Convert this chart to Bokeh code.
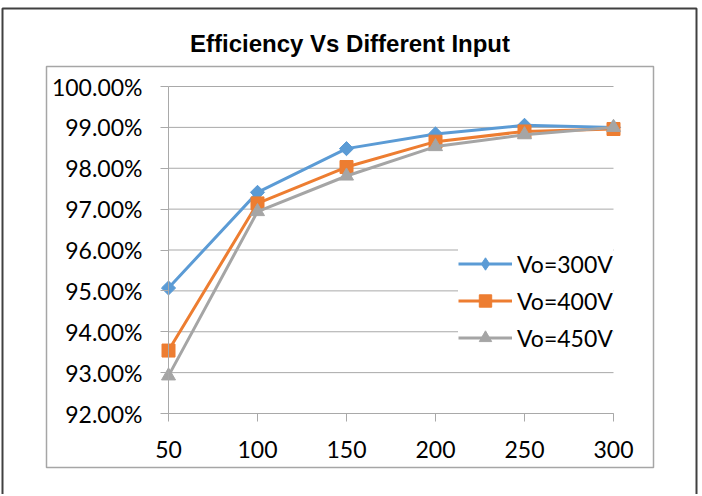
import math
from bokeh.plotting import figure
from bokeh.models import (Range1d, FixedTicker, PrintfTickFormatter, BoxAnnotation,
                          Label, Legend, LegendItem)
from bokeh.embed import file_html
from bokeh.resources import INLINE

# ---------------- data ----------------
x_vals = [50, 100, 150, 200, 250, 300]
vo300 = [95.07, 97.41, 98.48, 98.84, 99.05, 99.00]
vo400 = [93.54, 97.14, 98.03, 98.65, 98.90, 98.96]
vo450 = [92.92, 96.94, 97.81, 98.53, 98.82, 99.00]
y_ticks = [92, 93, 94, 95, 96, 97, 98, 99, 100]
series_names = ["Vo=300V", "Vo=400V", "Vo=450V"]
title_text = "Efficiency Vs Different Input"

# ---------------- layout (canvas px, y down) ----------------
W, H = 700, 494
X0_PX, X1_PX = 168, 613                 # where x=50 and x=300 fall
Y0_PX, Y1_PX = 413, 86                  # where y=92 and y=100 fall

xs = (x_vals[-1] - x_vals[0]) / (X1_PX - X0_PX)
ys = (y_ticks[-1] - y_ticks[0]) / (Y0_PX - Y1_PX)
x_range = Range1d(x_vals[0] - X0_PX * xs, x_vals[-1] + (W - X1_PX) * xs)
y_range = Range1d(y_ticks[0] - (H - Y0_PX) * ys, y_ticks[-1] + Y1_PX * ys)

GRID = "#A9A9A9"
COLORS = ["#5B9BD5", "#ED7D31", "#A5A5A5"]
LABEL_FONT = "Lato"
LABEL_SIZE = "23px"

p = figure(width=W, height=H, x_range=x_range, y_range=y_range,
           output_backend="svg", toolbar_location=None,
           min_border_left=0, min_border_right=0,
           min_border_top=0, min_border_bottom=0)
p.title.visible = False
p.outline_line_color = None
p.background_fill_color = "white"
p.border_fill_color = "white"
p.xgrid.visible = False
p.ygrid.visible = False

# horizontal gridlines between first and last category
n = len(y_ticks)
p.segment(x0=[x_vals[0]] * n, y0=y_ticks, x1=[x_vals[-1]] * n, y1=y_ticks,
          line_color=GRID, line_width=1)

# axes drawn inside the frame at fixed data locations
ya = p.yaxis[0]
ya.fixed_location = x_vals[0]
ya.bounds = (y_ticks[0], y_ticks[-1])
ya.ticker = FixedTicker(ticks=y_ticks)
ya.formatter = PrintfTickFormatter(format="%.2f%%")
ya.axis_line_color = GRID
ya.major_tick_line_color = GRID
ya.minor_tick_line_color = None
ya.major_tick_in = 0
ya.major_tick_out = 8
ya.major_label_standoff = 18
ya.major_label_text_font = LABEL_FONT
ya.major_label_text_font_size = LABEL_SIZE
ya.major_label_text_color = "black"

xa = p.xaxis[0]
xa.fixed_location = y_ticks[0]
xa.bounds = (x_vals[0], x_vals[-1])
xa.ticker = FixedTicker(ticks=x_vals)
xa.axis_line_color = GRID
xa.major_tick_line_color = GRID
xa.minor_tick_line_color = None
xa.major_tick_in = 0
xa.major_tick_out = 8
xa.major_label_standoff = 19
xa.major_label_text_font = LABEL_FONT
xa.major_label_text_font_size = LABEL_SIZE
xa.major_label_text_color = "black"

# series
l1 = p.line(x_vals, vo300, line_color=COLORS[0], line_width=3)
# diamond proxy for the legend, fully covered by the rotated squares below
d1 = p.scatter(x_vals, vo300, marker="diamond", size=13,
               fill_color=COLORS[0], line_color=COLORS[0])
m1 = p.scatter(x_vals, vo300, marker="square", angle=math.pi / 4, size=10,
               fill_color=COLORS[0], line_color=COLORS[0])
l2 = p.line(x_vals, vo400, line_color=COLORS[1], line_width=3)
m2 = p.scatter(x_vals, vo400, marker="square", size=13,
               fill_color=COLORS[1], line_color=COLORS[1])
l3 = p.line(x_vals, vo450, line_color=COLORS[2], line_width=3)
m3 = p.scatter(x_vals, vo450, marker="triangle", size=14,
               fill_color=COLORS[2], line_color=COLORS[2])

legend = Legend(items=[LegendItem(label=series_names[0], renderers=[l1, d1]),
                       LegendItem(label=series_names[1], renderers=[l2, m2]),
                       LegendItem(label=series_names[2], renderers=[l3, m3])],
                location=(458, H - 353), orientation="vertical",
                glyph_width=54, glyph_height=31, spacing=6, padding=0, margin=0,
                label_standoff=5, label_text_font=LABEL_FONT,
                label_text_font_size=LABEL_SIZE, label_text_color="black",
                border_line_color=None, background_fill_color="white",
                background_fill_alpha=1.0)
p.add_layout(legend)

# chart boxes (canvas units, y measured downward)
outer = BoxAnnotation(left=2, right=696, top=8, bottom=H + 20,
                      left_units="canvas", right_units="canvas",
                      top_units="canvas", bottom_units="canvas",
                      fill_color=None, fill_alpha=0,
                      line_color="#404040", line_alpha=1.0, line_width=2)
inner = BoxAnnotation(left=46, right=653, top=66, bottom=467,
                      left_units="canvas", right_units="canvas",
                      top_units="canvas", bottom_units="canvas",
                      fill_color=None, fill_alpha=0,
                      line_color="#A6A6A6", line_alpha=1.0, line_width=1.5)
p.add_layout(outer)
p.add_layout(inner)

title = Label(x=349.5, y=43, x_units="canvas", y_units="canvas",
              text=title_text, text_font="Liberation Sans", text_font_style="bold",
              text_font_size="24px", text_align="center", text_baseline="middle",
              text_color="black")
p.add_layout(title)

open("out.html", "w").write(file_html(p, INLINE))
